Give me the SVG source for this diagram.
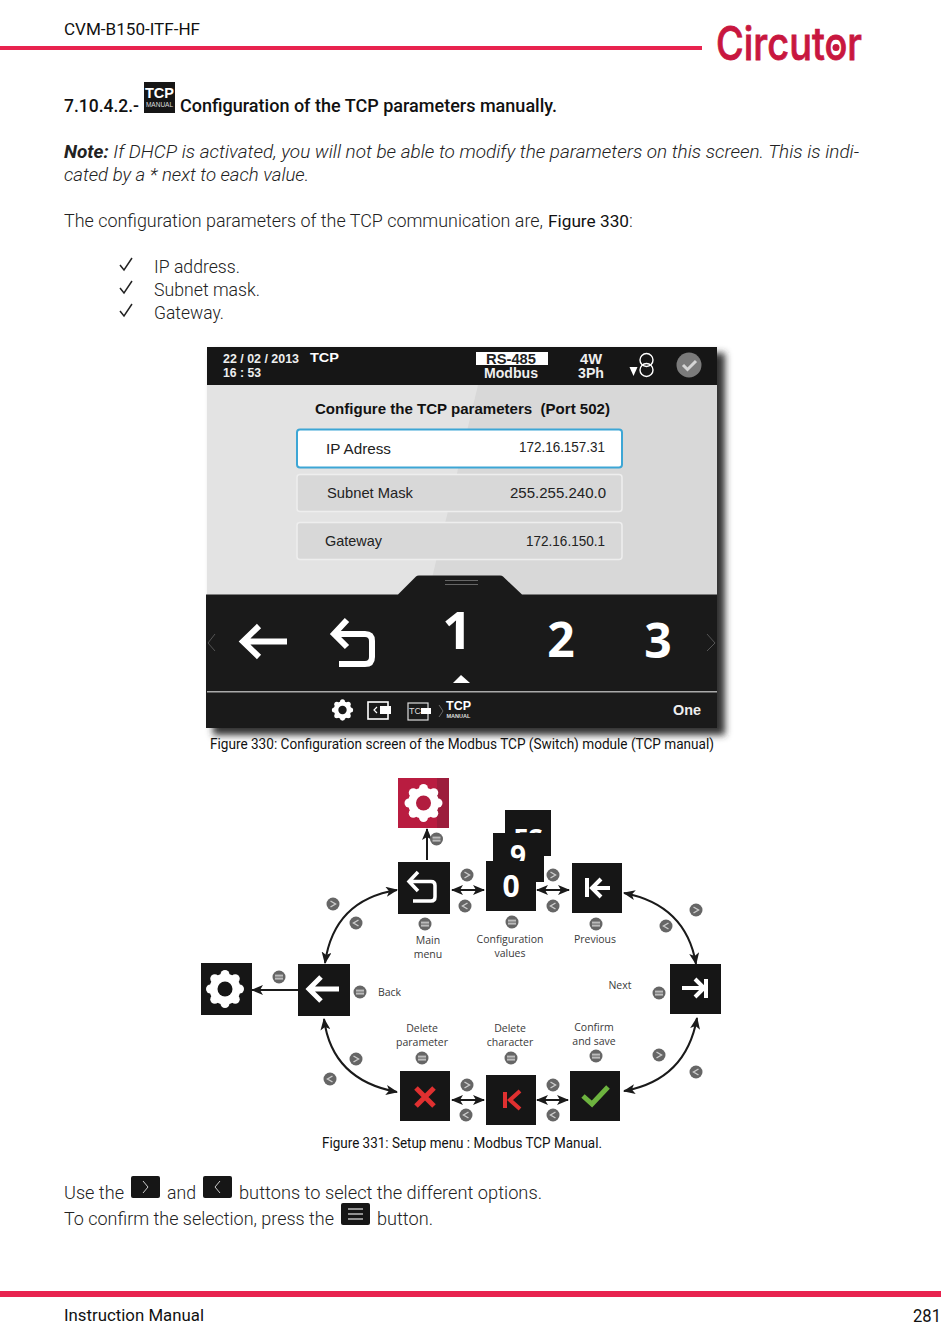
<svg xmlns="http://www.w3.org/2000/svg" width="950" height="1342" viewBox="0 0 950 1342">
<style>
text{font-family:"Roboto","Liberation Sans",sans-serif;fill:#1a1a1a}
.b{font-size:18px;font-weight:300;fill:#222}
.m{font-size:17px;font-weight:400;fill:#111}
.h{font-size:19px;font-weight:500;fill:#111}
.cap{font-size:14px;font-weight:400;fill:#111}
.lab{font-family:"Open Sans","Liberation Sans",sans-serif;font-size:10.500px;fill:#3a3a3a;text-anchor:middle}
.s{font-family:"Liberation Sans",sans-serif;font-weight:700;font-size:13px;fill:#eee}
.r{font-family:"Liberation Sans",sans-serif;font-size:14.500px;fill:#222}
.big{font-family:"Open Sans","Liberation Sans",sans-serif;font-weight:700;fill:#fff;text-anchor:middle}
.sq{fill:#161616}
.ic{fill:none;stroke:#fff;stroke-width:4}
.conn{fill:none;stroke:#1a1a1a;stroke-width:2;marker-end:url(#ah);marker-start:url(#ah)}
.one{fill:none;stroke:#1a1a1a;stroke-width:2;marker-end:url(#ah)}
</style>
<defs>
<marker id="ah" viewBox="0 0 12 10" refX="11" refY="5" markerWidth="12" markerHeight="10" markerUnits="userSpaceOnUse" orient="auto-start-reverse"><path d="M0,0 L12,5 L0,10 L3,5 Z" fill="#1a1a1a"/></marker>
<filter id="blur" x="-5%" y="-5%" width="110%" height="110%"><feGaussianBlur stdDeviation="3.500"/></filter>
<g id="gt"><circle r="6.500" fill="#666"/><path d="M-2.500,-3 L2.500,0 L-2.500,3" fill="none" stroke="#ccc" stroke-width="1.400"/></g>
<g id="lt"><circle r="6.500" fill="#666"/><path d="M2.500,-3 L-2.500,0 L2.500,3" fill="none" stroke="#ccc" stroke-width="1.400"/></g>
<g id="eq"><circle r="6.500" fill="#666"/><rect x="-4" y="-2.400" width="8" height="2" fill="#bbb"/><rect x="-4" y="0.600" width="8" height="2" fill="#bbb"/></g>
<g id="gear"><circle r="15.500" fill="#fff"/><g fill="#fff"><circle cx="14.500" cy="0" r="4.500"/><circle cx="-14.500" cy="0" r="4.500"/><circle cx="0" cy="14.500" r="4.500"/><circle cx="0" cy="-14.500" r="4.500"/><circle cx="10.250" cy="10.250" r="4.500"/><circle cx="-10.250" cy="10.250" r="4.500"/><circle cx="10.250" cy="-10.250" r="4.500"/><circle cx="-10.250" cy="-10.250" r="4.500"/></g><circle r="7.500" fill="currentColor"/></g>
</defs>

<g id="header">
<text class="m" x="64" y="35" textLength="136" lengthAdjust="spacingAndGlyphs">CVM-B150-ITF-HF</text>
<rect x="0" y="46" width="702" height="4" fill="#e8234f"/>
<text x="716" y="60" textLength="146" lengthAdjust="spacingAndGlyphs" style="font-family:'Inter','Open Sans',sans-serif;font-size:46px;font-weight:500;fill:#c8173f;stroke:#c8173f;stroke-width:0.800">Circutor</text>
<circle cx="836" cy="47.500" r="3.500" fill="#c8173f"/>
</g>

<g id="section-title">
<text class="h" x="64" y="112" textLength="75" lengthAdjust="spacingAndGlyphs">7.10.4.2.-</text>
<g id="tcp-icon"><rect x="144" y="82" width="31" height="31" fill="#161616"/>
<text x="159.500" y="98" text-anchor="middle" textLength="29" lengthAdjust="spacingAndGlyphs" style="font-family:'Liberation Sans',sans-serif;font-weight:700;font-size:15px;fill:#fff">TCP</text>
<text x="159.500" y="107" text-anchor="middle" style="font-family:'Liberation Sans',sans-serif;font-weight:400;font-size:6.500px;fill:#ddd">MANUAL</text></g>
<text class="h" x="180" y="112" textLength="377" lengthAdjust="spacingAndGlyphs">Configuration of the TCP parameters manually.</text>
</g>

<g id="intro">
<text class="b" x="64" y="158" textLength="795" lengthAdjust="spacingAndGlyphs"><tspan font-weight="700" font-style="italic">Note:</tspan><tspan font-style="italic"> If DHCP is activated, you will not be able to modify the parameters on this screen. This is indi-</tspan></text>
<text class="b" x="64" y="181" font-style="italic" textLength="245" lengthAdjust="spacingAndGlyphs">cated by a * next to each value.</text>
<text class="b" x="64" y="227" textLength="479" lengthAdjust="spacingAndGlyphs">The configuration parameters of the TCP communication are,</text>
<text class="cap" x="548" y="227" style="font-size:16px" textLength="81" lengthAdjust="spacingAndGlyphs">Figure 330</text>
<text class="b" x="629" y="227">:</text>
<g fill="none" stroke="#222" stroke-width="1.500"><path d="M120,265 L124,270 L132,258"/><path d="M120,288 L124,293 L132,281"/><path d="M120,311 L124,316 L132,304"/></g>
<text class="b" x="154" y="273" textLength="86" lengthAdjust="spacingAndGlyphs">IP address.</text>
<text class="b" x="154" y="296" textLength="106" lengthAdjust="spacingAndGlyphs">Subnet mask.</text>
<text class="b" x="154" y="319" textLength="70" lengthAdjust="spacingAndGlyphs">Gateway.</text>
</g>

<g id="screen">
<rect x="213" y="353" width="512" height="382" fill="#333" filter="url(#blur)"/>
<rect x="207" y="347" width="510" height="381" fill="#e3e3e3"/>
<polygon points="478,385 717,385 717,595 428,595" fill="#d8d8d8"/>
<rect x="207" y="347" width="510" height="38" fill="#161616"/>
<text class="s" x="223" y="363" style="font-size:12px" textLength="76" lengthAdjust="spacingAndGlyphs">22 / 02 / 2013</text>
<text class="s" x="310" y="362" style="fill:#fff" textLength="29" lengthAdjust="spacingAndGlyphs">TCP</text>
<text class="s" x="223" y="377" style="font-size:12px" textLength="38" lengthAdjust="spacingAndGlyphs">16 : 53</text>
<rect x="476" y="352" width="72" height="13" fill="#fff"/>
<text class="s" x="486" y="364" style="fill:#222;font-size:14px" textLength="50" lengthAdjust="spacingAndGlyphs">RS-485</text>
<text class="s" x="484" y="378" style="font-size:14px" textLength="54" lengthAdjust="spacingAndGlyphs">Modbus</text>
<text class="s" x="580" y="364" style="font-size:14px" textLength="22" lengthAdjust="spacingAndGlyphs">4W</text>
<text class="s" x="578" y="378" style="font-size:14px" textLength="26" lengthAdjust="spacingAndGlyphs">3Ph</text>
<polygon points="629.500,367 637.500,367 633.500,376" fill="#fff"/>
<circle cx="646.500" cy="360" r="6.500" fill="none" stroke="#fff" stroke-width="1.400"/><circle cx="646.500" cy="370" r="6.500" fill="none" stroke="#fff" stroke-width="1.400"/>
<circle cx="689" cy="365" r="12.500" fill="#7b7b7b"/><path d="M683,365 L687.500,369.500 L696,361" fill="none" stroke="#d5d5d5" stroke-width="3"/>
<text class="s" x="315" y="414" style="fill:#111;font-size:14px" textLength="295" lengthAdjust="spacingAndGlyphs" xml:space="preserve">Configure the TCP parameters  (Port 502)</text>
<g id="row-ip"><rect x="297" y="429.500" width="325" height="38" rx="3" fill="#fff" stroke="#3da6d5" stroke-width="2"/>
<text class="r" x="326" y="454" textLength="65" lengthAdjust="spacingAndGlyphs">IP Adress</text><text class="r" x="519" y="452" textLength="86" lengthAdjust="spacingAndGlyphs">172.16.157.31</text></g>
<g id="row-mask"><rect x="297" y="474.500" width="325" height="37" rx="3" fill="#d8d8d8" stroke="#eee" stroke-width="1.500"/>
<text class="r" x="327" y="498" textLength="86" lengthAdjust="spacingAndGlyphs">Subnet Mask</text><text class="r" x="510" y="498" textLength="96" lengthAdjust="spacingAndGlyphs">255.255.240.0</text></g>
<g id="row-gateway"><rect x="297" y="522.500" width="325" height="37" rx="3" fill="#d8d8d8" stroke="#eee" stroke-width="1.500"/>
<text class="r" x="325" y="546" textLength="57" lengthAdjust="spacingAndGlyphs">Gateway</text><text class="r" x="526" y="546" textLength="79" lengthAdjust="spacingAndGlyphs">172.16.150.1</text></g>
<path d="M206,594.500 H398 L416,576.500 Q417,575.500 419,575.500 H500 Q502,575.500 503,576.500 L522,594.500 H717 V728 H206 Z" fill="#1a1a1a"/>
<path d="M445,580.500 H478 M445,584.500 H478" stroke="#666" stroke-width="1"/>
<path d="M215,634 L208,643 L215,651 M707,634 L715,643 L707,651" fill="none" stroke="#555" stroke-width="1"/>
<path d="M287,641.500 H246 M259,626 L243,641.500 L259,657" fill="none" stroke="#fff" stroke-width="6"/>
<path d="M347,620 L334,634 L347,647 M336,634 H365 Q372,634 372,641 V657 Q372,664 365,664 H339" fill="none" stroke="#fff" stroke-width="6"/>
<text class="big" x="457" y="649" style="font-size:52px">1</text>
<text class="big" x="561" y="657" style="font-size:48px">2</text>
<text class="big" x="658" y="658" style="font-size:48px">3</text>
<polygon points="453,683 461,675 470,683" fill="#fff"/>
<rect x="207" y="691" width="510" height="1.500" fill="#aaa"/>
<use href="#gear" transform="translate(342.500,710) scale(0.56)" color="#1a1a1a"/>
<rect x="368" y="702" width="20" height="17" fill="none" stroke="#fff" stroke-width="1.600"/>
<rect x="380" y="706" width="11" height="8" fill="#fff"/><path d="M377,707 L374,710 L377,713" fill="none" stroke="#fff" stroke-width="1.200"/>
<rect x="408" y="703" width="20" height="17" fill="none" stroke="#ddd" stroke-width="1.200"/>
<text x="409" y="714" style="font-family:'Liberation Sans',sans-serif;font-size:9px;fill:#ddd">TCP</text>
<rect x="421" y="708" width="10" height="6" fill="#fff"/>
<path d="M439,705 L443,711 L439,717" fill="none" stroke="#666" stroke-width="1"/>
<text class="s" x="446" y="710" style="fill:#fff;font-size:12px" textLength="25" lengthAdjust="spacingAndGlyphs">TCP</text>
<text class="s" x="446.500" y="718" style="fill:#ddd;font-size:5px" textLength="24" lengthAdjust="spacingAndGlyphs">MANUAL</text>
<text class="s" x="673" y="715" style="fill:#eee;font-size:14px" textLength="28" lengthAdjust="spacingAndGlyphs">One</text>
</g>
<text id="caption-330" class="cap" x="210" y="749" textLength="504" lengthAdjust="spacingAndGlyphs">Figure 330: Configuration screen of the Modbus TCP (Switch) module (TCP manual)</text>

<g id="connectors">
<path class="one" d="M427,860 V829"/>
<path class="one" d="M298,990 H252"/>
<path class="conn" d="M397,890 Q334,900 325,963"/>
<path class="conn" d="M324,1019 Q332,1080 397,1092"/>
<path class="conn" d="M624,893 Q686,905 696,964"/>
<path class="conn" d="M697,1018 Q686,1080 624,1091"/>
<path class="conn" d="M452,890 H484"/>
<path class="conn" d="M537,890 H569"/>
<path class="conn" d="M452,1100 H484"/>
<path class="conn" d="M537,1100 H568"/>
</g>

<g id="node-setup-red"><rect x="398" y="778" width="51" height="50" fill="#b91c40"/><rect x="437" y="778" width="12" height="50" fill="#9c1d3c"/><use href="#gear" transform="translate(423.500,803)" color="#b21c3f"/></g>
<use href="#eq" x="436.500" y="839"/>
<g id="node-main-menu"><rect class="sq" x="398" y="862" width="52" height="52"/><path d="M418,872 L409,881.500 L418,891 M411,881.500 H431 Q435,881.500 435,885.500 V897 Q435,901 431,901 H413" fill="none" stroke="#fff" stroke-width="3.500"/>
<use href="#eq" x="425" y="924"/><text class="lab" x="428" y="944">Main</text><text class="lab" x="428" y="958">menu</text></g>
<use href="#gt" x="467" y="875"/><use href="#lt" x="465" y="906"/>
<g id="node-values"><rect class="sq" x="505" y="810" width="46" height="46"/><text class="big" x="528" y="848" style="font-size:27px">FS</text>
<rect class="sq" x="493" y="833" width="51" height="49"/><text class="big" x="518" y="866" style="font-size:28px">9</text>
<rect class="sq" x="486" y="861" width="50" height="50"/><text class="big" x="511" y="897" style="font-size:30px">0</text>
<use href="#eq" x="512" y="922"/><text class="lab" x="510" y="943">Configuration</text><text class="lab" x="510" y="957">values</text></g>
<use href="#gt" x="553" y="875"/><use href="#lt" x="553" y="906"/>
<g id="node-previous"><rect class="sq" x="572" y="863" width="50" height="50"/><path d="M587,878 V897 M610,888 H593 M601,879 L592,888 L601,897" class="ic"/>
<use href="#eq" x="596" y="924"/><text class="lab" x="595" y="943">Previous</text></g>
<use href="#gt" x="696" y="910"/><use href="#lt" x="666" y="926"/><use href="#gt" x="333" y="904"/><use href="#lt" x="356" y="923"/>
<g id="node-next"><rect class="sq" x="670" y="964" width="51" height="50"/><path d="M682,988 H703 M695,979 L704,988 L695,997 M706,979 V998" class="ic"/>
<use href="#eq" x="659" y="993"/><text class="lab" x="620" y="989">Next</text></g>
<g id="node-back"><rect class="sq" x="298" y="964" width="52" height="52"/><path d="M339,989 H311 M321,977 L309,989 L321,1001" class="ic" style="stroke-width:5"/>
<use href="#eq" x="360" y="992"/><text class="lab" x="389.500" y="996">Back</text></g>
<g id="node-setup-black"><rect class="sq" x="201" y="963" width="51" height="52"/><use href="#gear" transform="translate(225,989)" color="#161616"/></g>
<use href="#eq" x="279" y="977"/><use href="#gt" x="356" y="1059"/><use href="#lt" x="330" y="1079"/>
<g id="node-delete-param"><rect class="sq" x="400" y="1071" width="50" height="50"/><path d="M416,1088 L434,1106 M434,1088 L416,1106" fill="none" stroke="#e03030" stroke-width="5"/>
<use href="#eq" x="422" y="1058"/><text class="lab" x="422" y="1032">Delete</text><text class="lab" x="422" y="1046">parameter</text></g>
<use href="#gt" x="467" y="1085"/><use href="#lt" x="466" y="1115"/>
<g id="node-delete-char"><rect class="sq" x="486" y="1075" width="50" height="50"/><path d="M505,1092 V1108 M520,1091 L510,1100 L520,1109" fill="none" stroke="#e03030" stroke-width="4"/>
<use href="#eq" x="511" y="1058"/><text class="lab" x="510" y="1032">Delete</text><text class="lab" x="510" y="1046">character</text></g>
<use href="#gt" x="553" y="1085"/><use href="#lt" x="553" y="1115"/>
<g id="node-confirm"><rect class="sq" x="570" y="1071" width="50" height="50"/><path d="M583,1096 L592,1104 L608,1087" fill="none" stroke="#6db33f" stroke-width="5"/>
<use href="#eq" x="596" y="1056"/><text class="lab" x="594" y="1031">Confirm</text><text class="lab" x="594" y="1045">and save</text></g>
<use href="#gt" x="659" y="1055"/><use href="#lt" x="696" y="1072"/>
<text id="caption-331" class="cap" x="322" y="1148" textLength="280" lengthAdjust="spacingAndGlyphs">Figure 331: Setup menu : Modbus TCP Manual.</text>

<g id="usage">
<text class="b" x="64" y="1199" textLength="60" lengthAdjust="spacingAndGlyphs">Use the</text>
<rect x="131" y="1176" width="29" height="22" rx="2" fill="#161616"/><path d="M143,1181 L148,1187 L143,1193" fill="none" stroke="#ccc"/>
<text class="b" x="167" y="1199" textLength="29" lengthAdjust="spacingAndGlyphs">and</text>
<rect x="203" y="1176" width="29" height="22" rx="2" fill="#161616"/><path d="M220,1181 L215,1187 L220,1193" fill="none" stroke="#ccc"/>
<text class="b" x="239" y="1199" textLength="303" lengthAdjust="spacingAndGlyphs">buttons to select the different options.</text>
<text class="b" x="64" y="1225" textLength="270" lengthAdjust="spacingAndGlyphs">To confirm the selection, press the</text>
<rect x="341" y="1203" width="29" height="22" rx="2" fill="#161616"/><path d="M348,1209 H363 M348,1214 H363 M348,1219 H363" stroke="#bbb" stroke-width="1.500"/>
<text class="b" x="377" y="1225" textLength="56" lengthAdjust="spacingAndGlyphs">button.</text>
</g>

<g id="footer">
<rect x="0" y="1291" width="941" height="6" fill="#e8234f"/>
<text class="m" x="64" y="1321" textLength="140" lengthAdjust="spacingAndGlyphs">Instruction Manual</text>
<text class="m" x="913" y="1322" style="font-size:19px" textLength="28" lengthAdjust="spacingAndGlyphs">281</text>
</g>
</svg>
